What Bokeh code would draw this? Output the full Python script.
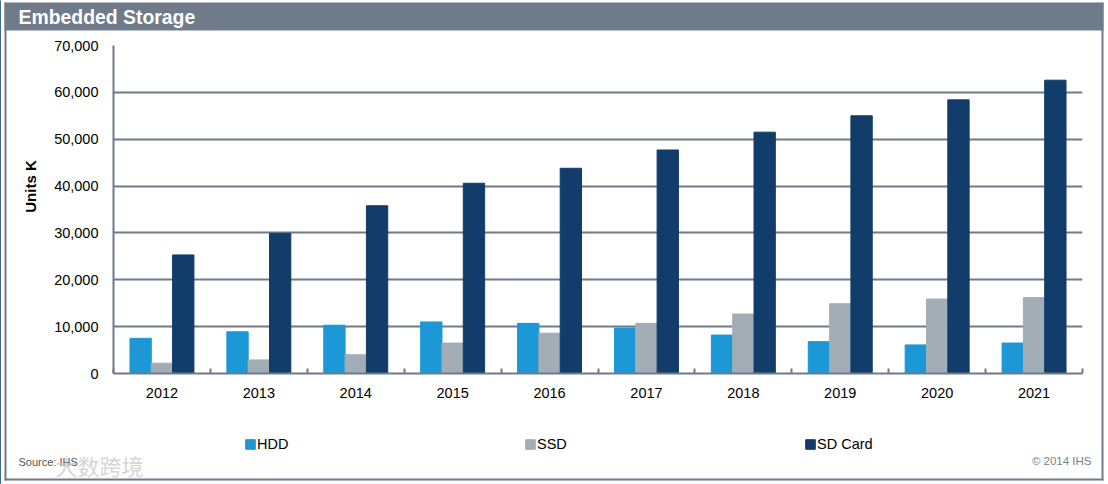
import math
from bokeh.plotting import figure
from bokeh.models import (ColumnDataSource, Range1d, FixedTicker, NumeralTickFormatter, BoxAnnotation,
                          Label, Legend, LegendItem)
from bokeh.transform import dodge
from bokeh.embed import file_html
from bokeh.resources import INLINE

years = ["2012", "2013", "2014", "2015", "2016", "2017", "2018", "2019", "2020", "2021"]
hdd = [7500, 8900, 10300, 11000, 10700, 9700, 8200, 6800, 6100, 6500]
ssd = [2200, 2900, 4000, 6500, 8600, 10700, 12700, 14900, 15900, 16200]
sd_card = [25300, 29900, 35800, 40600, 43800, 47700, 51500, 55000, 58400, 62600]
y_ticks = [0, 10000, 20000, 30000, 40000, 50000, 60000, 70000]
series_names = ["HDD", "SSD", "SD Card"]
series_colors = ["#1b98d5", "#a3adb5", "#123c69"]

GRAY = "#6f7b8a"
FONT = "Liberation Sans"

# ---- backdrop: frame, title band, notes and legend, in canvas pixels ----
bg = figure(width=1108, height=484, output_backend="svg", toolbar_location=None,
            x_range=Range1d(0, 1108), y_range=Range1d(484, 0), x_axis_type=None, y_axis_type=None,
            min_border=0, outline_line_color=None, background_fill_color="white", border_fill_color="white")
bg.grid.visible = False

for kw in (dict(left=4, right=6, top=2, bottom=480), dict(left=1101, right=1103, top=2, bottom=480),
           dict(left=4, right=1103, top=478, bottom=480), dict(left=4, right=1103, top=2, bottom=30)):
    bg.add_layout(BoxAnnotation(fill_color=GRAY, fill_alpha=1, line_color=None, **kw))

def txt(x, y, s, **kw):
    bg.add_layout(Label(x=x, y=y, text=s, text_baseline="middle", **{"text_font": FONT, **kw}))

txt(18, 16, "Embedded Storage", text_color="white", text_font_size="19.4px", text_font_style="bold")
txt(30, 186, "Units K", text_color="black", text_font_size="15px", text_font_style="bold",
    text_align="center", angle=math.pi / 2)
txt(18, 461, "Source: IHS", text_color="#555555", text_font_size="11px")
txt(1091, 460, "© 2014 IHS", text_color="#777f88", text_font_size="11.5px", text_align="right")
txt(55, 464, "大数跨境", text_font="Noto Sans CJK SC", text_font_size="22px", text_color="#c8c8c8", text_alpha=0.75)

for name, color, lx in zip(series_names, series_colors, (244, 524, 804)):
    handle = bg.vbar(x=[-50], top=[500], width=1, color=color)   # off-canvas: only feeds the legend swatch
    bg.add_layout(Legend(items=[LegendItem(label=name, renderers=[handle])], location=(lx, 32),
                         border_line_color=None, background_fill_alpha=0, glyph_width=12, glyph_height=12,
                         label_standoff=1, padding=0, margin=0, label_text_font=FONT,
                         label_text_font_size="14.5px", label_text_color="black", label_height=12), "center")

# ---- chart ----
centers = [i + 0.5 for i in range(len(years))]
src = ColumnDataSource(dict(x=centers, hdd=hdd, ssd=ssd, sd=sd_card))

p = figure(width=1108, height=484, output_backend="svg", toolbar_location=None,
           x_range=Range1d(0, len(years)), y_range=Range1d(0, 70000),
           min_border_left=113, min_border_right=26, min_border_top=45, min_border_bottom=111,
           outline_line_color=None, background_fill_color=None, border_fill_color=None,
           margin=(-484, 0, 0, 0))

W = 0.22
p.vbar(x=dodge("x", -W), top="hdd", width=W, source=src, color=series_colors[0])
p.vbar(x="x", top="ssd", width=W, source=src, color=series_colors[1])
p.vbar(x=dodge("x", W), top="sd", width=W, source=src, color=series_colors[2])

xa = p.xaxis[0]
xa.ticker = FixedTicker(ticks=centers, minor_ticks=list(range(len(years) + 1)))
xa.major_label_overrides = {c: y for c, y in zip(centers, years)}
xa.major_tick_line_color = None
xa.minor_tick_line_color = GRAY
xa.minor_tick_line_width = 2
xa.minor_tick_in = 5
xa.minor_tick_out = 0
xa.axis_line_color = GRAY
xa.axis_line_width = 2
xa.major_label_text_font = FONT
xa.major_label_text_font_size = "14.5px"
xa.major_label_text_color = "black"
xa.major_label_standoff = 8

ya = p.yaxis[0]
ya.ticker = FixedTicker(ticks=y_ticks)
ya.formatter = NumeralTickFormatter(format="0,0")
ya.major_tick_line_color = None
ya.minor_tick_line_color = None
ya.axis_line_color = GRAY
ya.axis_line_width = 2
ya.major_label_text_font = FONT
ya.major_label_text_font_size = "14.5px"
ya.major_label_text_color = "black"
ya.major_label_standoff = 9

p.xgrid.visible = False
p.ygrid.grid_line_color = GRAY
p.ygrid.grid_line_width = 2
p.ygrid.ticker = FixedTicker(ticks=y_ticks)

open("out.html", "w").write(file_html([bg, p], INLINE))
